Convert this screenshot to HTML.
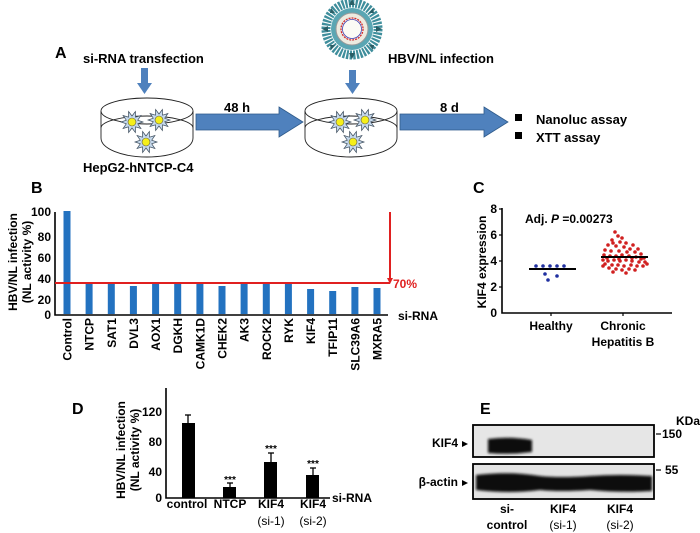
<!DOCTYPE html>
<html><head><meta charset="utf-8"><style>
html,body{margin:0;padding:0;background:#fff;}
svg{display:block;}
text{font-family:"Liberation Sans",Arial,sans-serif;font-weight:bold;fill:#000;}
</style></head><body>
<svg width="700" height="533" viewBox="0 0 700 533" xmlns="http://www.w3.org/2000/svg">
<defs>
<g id="cell"><polygon points="11,0 5.71,1.85 8.9,6.47 3.53,4.85 3.4,10.46 0,6 -3.4,10.46 -3.53,4.85 -8.9,6.47 -5.71,1.85 -11,0 -5.71,-1.85 -8.9,-6.47 -3.53,-4.85 -3.4,-10.46 0,-6 3.4,-10.46 3.53,-4.85 8.9,-6.47 5.71,-1.85" fill="#c6d9ec" stroke="#3a4a5a" stroke-width="0.7"/><circle r="4" fill="#f5ef1a" stroke="#555" stroke-width="0.6"/></g>
<filter id="bl"><feGaussianBlur stdDeviation="1.2"/></filter>
</defs>

<!-- Panel A -->
<text x="55" y="58" font-size="16">A</text>
<text x="83" y="63" font-size="13">si-RNA transfection</text>
<text x="388" y="63" font-size="13">HBV/NL infection</text>
<rect x="141" y="68" width="7" height="16" fill="#4f81bd"/><polygon points="137,83 152,83 144.5,94" fill="#4f81bd"/>
<rect x="349" y="70" width="7" height="14" fill="#4f81bd"/><polygon points="345,83 360,83 352.5,94" fill="#4f81bd"/>
<g fill="none" stroke="#222" stroke-width="0.9">
<ellipse cx="147" cy="111" rx="46" ry="13"/>
<path d="M101,111 L101,138 A46,19 0 0 0 193,138 L193,111"/>
<path d="M101,128 A46,12 0 0 1 193,128" />
<ellipse cx="351" cy="111" rx="46" ry="13"/>
<path d="M305,111 L305,138 A46,19 0 0 0 397,138 L397,111"/>
<path d="M305,128 A46,12 0 0 1 397,128" />
</g>
<use href="#cell" x="132" y="122"/><use href="#cell" x="159" y="120"/><use href="#cell" x="146" y="142"/>
<use href="#cell" x="340" y="122"/><use href="#cell" x="365" y="120"/><use href="#cell" x="353" y="142"/>
<text x="83" y="172" font-size="13">HepG2-hNTCP-C4</text>
<polygon points="196,114 279,114 279,107 303,122 279,137 279,130 196,130" fill="#4f81bd" stroke="#2e5a8a" stroke-width="0.8"/>
<polygon points="400,114 484,114 484,107 508,122 484,137 484,130 400,130" fill="#4f81bd" stroke="#2e5a8a" stroke-width="0.8"/>
<text x="224" y="112" font-size="13">48 h</text>
<text x="440" y="112" font-size="13">8 d</text>
<rect x="515" y="114" width="7" height="7" fill="#000"/><rect x="515" y="132" width="7" height="7" fill="#000"/>
<text x="536" y="124" font-size="13">Nanoluc assay</text>
<text x="536" y="142" font-size="13">XTT assay</text>
<g>
<circle cx="352" cy="29" r="26" fill="none" stroke="#3f8e9c" stroke-width="9" stroke-dasharray="2.2 1.2"/>
<circle cx="352" cy="29" r="21" fill="#5aa6b3"/>
<circle cx="352" cy="29" r="16" fill="#ecebe0" stroke="#999" stroke-width="1"/>
<circle cx="352" cy="29" r="11" fill="#fbfbf5" stroke="#d02a2a" stroke-width="1.3" stroke-dasharray="2 1"/>
<circle cx="352" cy="29" r="9.5" fill="none" stroke="#4040b0" stroke-width="0.8"/>
<g fill="#2a5e66"><polygon points="352,-1 349,5 355,5"/><polygon points="352,59 349,53 355,53"/><polygon points="322,29 328,26 328,32"/><polygon points="382,29 376,26 376,32"/><polygon points="331,8 335,13 330,13"/><polygon points="373,8 369,13 374,13"/><polygon points="331,50 335,45 330,45"/><polygon points="373,50 369,45 374,45"/></g>
</g>

<text x="31" y="193" font-size="16">B</text>
<text x="473" y="193" font-size="16">C</text>

<!-- Panel B chart -->
<g stroke="#000" stroke-width="1.6" fill="none"><path d="M55,212 L55,315 L388,315"/></g>
<g font-size="12" text-anchor="end">
<text x="51" y="216">100</text><text x="51" y="241">80</text><text x="51" y="262">60</text><text x="51" y="283">40</text><text x="51" y="304">20</text><text x="51" y="319">0</text>
</g>
<text transform="translate(17,262) rotate(-90)" font-size="12" text-anchor="middle">HBV/NL infection</text>
<text transform="translate(31,262) rotate(-90)" font-size="12" text-anchor="middle">(NL activity %)</text>
<g fill="#2372c0">
<rect x="63.5" y="211" width="7" height="103"/>
<rect x="85.6" y="284" width="7" height="30"/>
<rect x="107.8" y="284" width="7" height="30"/>
<rect x="129.9" y="286" width="7" height="28"/>
<rect x="152.1" y="284" width="7" height="30"/>
<rect x="174.2" y="284" width="7" height="30"/>
<rect x="196.4" y="284" width="7" height="30"/>
<rect x="218.5" y="286" width="7" height="28"/>
<rect x="240.6" y="284" width="7" height="30"/>
<rect x="262.8" y="284" width="7" height="30"/>
<rect x="284.9" y="284" width="7" height="30"/>
<rect x="307.1" y="289" width="7" height="25"/>
<rect x="329.2" y="291" width="7" height="23"/>
<rect x="351.4" y="287" width="7" height="27"/>
<rect x="373.5" y="288" width="7" height="26"/>
</g>
<line x1="55" y1="283" x2="390" y2="283" stroke="#e02020" stroke-width="2"/>
<line x1="390" y1="212" x2="390" y2="280" stroke="#e02020" stroke-width="2"/>
<polygon points="387,278 393,278 390,284" fill="#e02020"/>
<text x="393" y="288" font-size="12" style="fill:#e02020">70%</text>
<text x="398" y="320" font-size="12">si-RNA</text>
<g font-size="12" text-anchor="end">
<text transform="translate(71.5,318) rotate(-90)">Control</text>
<text transform="translate(93.6,318) rotate(-90)">NTCP</text>
<text transform="translate(115.8,318) rotate(-90)">SAT1</text>
<text transform="translate(137.9,318) rotate(-90)">DVL3</text>
<text transform="translate(160.1,318) rotate(-90)">AOX1</text>
<text transform="translate(182.2,318) rotate(-90)">DGKH</text>
<text transform="translate(204.4,318) rotate(-90)">CAMK1D</text>
<text transform="translate(226.5,318) rotate(-90)">CHEK2</text>
<text transform="translate(248.6,318) rotate(-90)">AK3</text>
<text transform="translate(270.8,318) rotate(-90)">ROCK2</text>
<text transform="translate(292.9,318) rotate(-90)">RYK</text>
<text transform="translate(315.1,318) rotate(-90)">KIF4</text>
<text transform="translate(337.2,318) rotate(-90)">TFIP11</text>
<text transform="translate(359.4,318) rotate(-90)">SLC39A6</text>
<text transform="translate(381.5,318) rotate(-90)">MXRA5</text>
</g>

<!-- Panel C -->
<path d="M502,208 L502,313 L672,313" stroke="#000" stroke-width="1.6" fill="none"/>
<g stroke="#000" stroke-width="1.2"><line x1="499" y1="209" x2="502" y2="209"/><line x1="499" y1="235" x2="502" y2="235"/><line x1="499" y1="261" x2="502" y2="261"/><line x1="499" y1="287" x2="502" y2="287"/><line x1="551" y1="313" x2="551" y2="316"/><line x1="623" y1="313" x2="623" y2="316"/></g>
<g font-size="12" text-anchor="end"><text x="497" y="213">8</text><text x="497" y="239">6</text><text x="497" y="265">4</text><text x="497" y="291">2</text><text x="497" y="317">0</text></g>
<text transform="translate(486,262) rotate(-90)" font-size="12" text-anchor="middle">KIF4 expression</text>
<text x="525" y="223" font-size="12">Adj. <tspan font-style="italic">P</tspan> =0.00273</text>
<g fill="#2030a0"><circle cx="536" cy="266" r="1.8"/><circle cx="543" cy="266" r="1.8"/><circle cx="550" cy="266" r="1.8"/><circle cx="557" cy="266" r="1.8"/><circle cx="564" cy="266" r="1.8"/><circle cx="545" cy="274" r="1.8"/><circle cx="557" cy="276" r="1.8"/><circle cx="548" cy="280" r="1.8"/></g>
<line x1="529" y1="269" x2="576" y2="269" stroke="#000" stroke-width="2"/>
<g fill="#d02020">
<circle cx="615" cy="232" r="1.8"/><circle cx="618" cy="236" r="1.8"/><circle cx="612" cy="240" r="1.8"/><circle cx="620" cy="242" r="1.8"/><circle cx="608" cy="245" r="1.8"/><circle cx="616" cy="246" r="1.8"/><circle cx="624" cy="247" r="1.8"/><circle cx="630" cy="249" r="1.8"/><circle cx="605" cy="250" r="1.8"/><circle cx="611" cy="251" r="1.8"/><circle cx="619" cy="251" r="1.8"/><circle cx="627" cy="252" r="1.8"/><circle cx="635" cy="252" r="1.8"/><circle cx="641" cy="254" r="1.8"/><circle cx="604" cy="255" r="1.8"/><circle cx="610" cy="256" r="1.8"/><circle cx="616" cy="256" r="1.8"/><circle cx="622" cy="255" r="1.8"/><circle cx="629" cy="256" r="1.8"/><circle cx="636" cy="257" r="1.8"/><circle cx="644" cy="258" r="1.8"/><circle cx="603" cy="260" r="1.8"/><circle cx="608" cy="261" r="1.8"/><circle cx="614" cy="260" r="1.8"/><circle cx="620" cy="261" r="1.8"/><circle cx="626" cy="260" r="1.8"/><circle cx="632" cy="261" r="1.8"/><circle cx="639" cy="262" r="1.8"/><circle cx="645" cy="262" r="1.8"/><circle cx="605" cy="264" r="1.8"/><circle cx="612" cy="265" r="1.8"/><circle cx="618" cy="265" r="1.8"/><circle cx="624" cy="266" r="1.8"/><circle cx="631" cy="265" r="1.8"/><circle cx="637" cy="266" r="1.8"/><circle cx="643" cy="266" r="1.8"/><circle cx="609" cy="268" r="1.8"/><circle cx="616" cy="269" r="1.8"/><circle cx="622" cy="270" r="1.8"/><circle cx="629" cy="269" r="1.8"/><circle cx="635" cy="270" r="1.8"/><circle cx="626" cy="273" r="1.8"/><circle cx="613" cy="272" r="1.8"/><circle cx="622" cy="238" r="1.8"/><circle cx="626" cy="243" r="1.8"/><circle cx="633" cy="245" r="1.8"/><circle cx="613" cy="243" r="1.8"/><circle cx="638" cy="249" r="1.8"/><circle cx="607" cy="258" r="1.8"/><circle cx="641" cy="259" r="1.8"/><circle cx="647" cy="264" r="1.8"/><circle cx="603" cy="266" r="1.8"/><circle cx="619" cy="259" r="1.8"/><circle cx="632" cy="258" r="1.8"/></g>
<line x1="601" y1="257" x2="648" y2="257" stroke="#000" stroke-width="2"/>
<g font-size="12" text-anchor="middle"><text x="551" y="330">Healthy</text><text x="623" y="330">Chronic</text><text x="623" y="346">Hepatitis B</text></g>

<!-- Panel D -->
<text x="72" y="414" font-size="16">D</text>
<path d="M166,388 L166,498 L330,498" stroke="#000" stroke-width="1.6" fill="none"/>
<g font-size="12" text-anchor="end"><text x="162" y="416">120</text><text x="162" y="446">80</text><text x="162" y="476">40</text><text x="162" y="502">0</text></g>
<text transform="translate(125,450) rotate(-90)" font-size="12" text-anchor="middle">HBV/NL infection</text>
<text transform="translate(139,450) rotate(-90)" font-size="12" text-anchor="middle">(NL activity %)</text>
<g fill="#000">
<rect x="182" y="423" width="13" height="75"/><rect x="223" y="487" width="13" height="11"/><rect x="264" y="462" width="13" height="36"/><rect x="306" y="475" width="13" height="23"/>
</g>
<g stroke="#000" stroke-width="1.3"><line x1="188" y1="415" x2="188" y2="423"/><line x1="185" y1="415" x2="191" y2="415"/><line x1="230" y1="483" x2="230" y2="487"/><line x1="227" y1="483" x2="233" y2="483"/><line x1="271" y1="453" x2="271" y2="462"/><line x1="268" y1="453" x2="274" y2="453"/><line x1="313" y1="468" x2="313" y2="475"/><line x1="310" y1="468" x2="316" y2="468"/></g>
<g font-size="10" text-anchor="middle"><text x="230" y="483">***</text><text x="271" y="452">***</text><text x="313" y="467">***</text></g>
<text x="332" y="502" font-size="12">si-RNA</text>
<g font-size="12" text-anchor="middle"><text x="187" y="508">control</text><text x="230" y="508">NTCP</text><text x="271" y="508">KIF4</text><text x="313" y="508">KIF4</text></g>
<g font-size="12" text-anchor="middle"><text x="271" y="525" style="font-weight:normal">(si-1)</text><text x="313" y="525" style="font-weight:normal">(si-2)</text></g>

<!-- Panel E -->
<text x="480" y="414" font-size="16">E</text>
<rect x="473" y="425" width="181" height="32" fill="#e6e6e6" stroke="#000" stroke-width="1.8"/>
<rect x="473" y="464" width="181" height="35" fill="#e3e3e3" stroke="#000" stroke-width="1.8"/>
<g filter="url(#bl)">
<path d="M488,439 Q510,436 532,440 L532,452 Q510,455 488,453 Z" fill="#111"/>
<path d="M476,475 Q510,471 540,476 Q560,478 590,476 Q620,474 652,476 L652,491 Q620,493 590,490 Q560,492 540,490 Q510,494 476,490 Z" fill="#111"/>
</g>
<text x="458" y="447" font-size="12" text-anchor="end">KIF4</text><polygon points="462,441 468,444 462,447" fill="#000"/>
<text x="458" y="486" font-size="12" text-anchor="end">β-actin</text><polygon points="462,480 468,483 462,486" fill="#000"/>
<text x="676" y="425" font-size="12">KDa</text>
<line x1="656" y1="434" x2="661" y2="434" stroke="#000" stroke-width="1.2"/><text x="662" y="438" font-size="12">150</text>
<line x1="656" y1="470" x2="661" y2="470" stroke="#000" stroke-width="1.2"/><text x="665" y="474" font-size="12">55</text>
<g font-size="12" text-anchor="middle"><text x="507" y="513">si-</text><text x="507" y="529">control</text><text x="563" y="513">KIF4</text><text x="620" y="513">KIF4</text></g>
<g font-size="12" text-anchor="middle"><text x="563" y="529" style="font-weight:normal">(si-1)</text><text x="620" y="529" style="font-weight:normal">(si-2)</text></g>
</svg>
</body></html>
